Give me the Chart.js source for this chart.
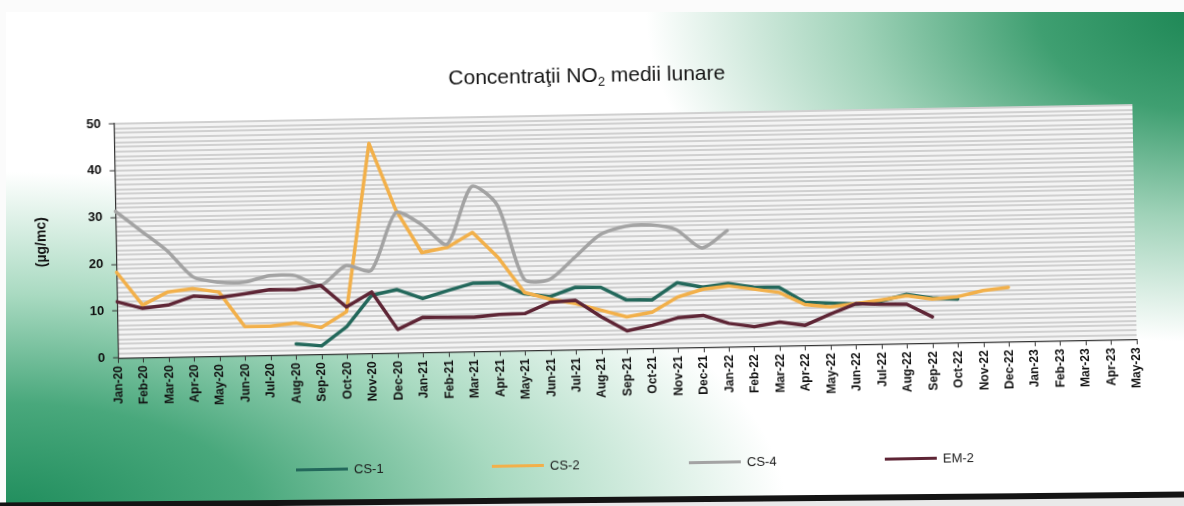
<!DOCTYPE html>
<html>
<head>
<meta charset="utf-8">
<script src="https://cdn.jsdelivr.net/npm/chart.js@4.4.0/dist/chart.umd.min.js"></script>
<style>
  html, body { margin:0; padding:0; }
  body { width:1184px; height:506px; overflow:hidden; position:relative; background:#fbfbfb; font-family:"Liberation Sans", Arial, sans-serif; }
  #page { position:absolute; left:6px; top:12px; width:1200px; height:500px;
    background:
      radial-gradient(ellipse 560px 330px at 100% 0%, #1c8654 0%, #3f9f71 30%, #9fd2b8 62%, rgba(255,255,255,0) 100%),
      radial-gradient(ellipse 780px 340px at 0% 100%, #1f8d5c 0%, #49a87c 32%, #a9dac1 64%, rgba(255,255,255,0) 100%),
      #ffffff; }
  #edge { position:absolute; left:-10px; top:497px; width:1220px; height:6px; background:#141414; transform:rotate(-0.53deg); }
  #below { position:absolute; left:-10px; top:501px; width:1220px; height:20px; background:#e9e9e9; transform:rotate(-0.53deg); }
  #wrap { position:absolute; left:0; top:0; width:1184px; height:506px; transform-origin:592px 253px; transform:rotate(-1.05deg); }
  #c { position:absolute; left:0; top:0; }
  #title { position:absolute; left:390px; width:400px; top:63px; text-align:center; font-size:21px; line-height:24px; color:#141414; }
  #title sub { font-size:13px; vertical-align:-4px; line-height:0; }
  .lg { position:absolute; top:456px; height:16px; display:flex; align-items:center; font-size:13px; color:#1a1a1a; }
  .lg span.sw { display:inline-block; width:52px; height:3px; margin-right:6px; }
</style>
</head>
<body>
<div id="page"></div>
<div id="below"></div>
<div id="edge"></div>
<div id="wrap">
  <canvas id="c" width="1184" height="506"></canvas>
  <div id="title">Concentraţii NO<sub>2</sub> medii lunare</div>
  <div class="lg" style="left:292px"><span class="sw" style="background:#23685b"></span>CS-1</div>
  <div class="lg" style="left:488px"><span class="sw" style="background:#f2b04a"></span>CS-2</div>
  <div class="lg" style="left:685px"><span class="sw" style="background:#a3a3a3"></span>CS-4</div>
  <div class="lg" style="left:881px"><span class="sw" style="background:#5e2535"></span>EM-2</div>
</div>
<script>
const months = ['Jan-20','Feb-20','Mar-20','Apr-20','May-20','Jun-20','Jul-20','Aug-20','Sep-20','Oct-20','Nov-20','Dec-20',
  'Jan-21','Feb-21','Mar-21','Apr-21','May-21','Jun-21','Jul-21','Aug-21','Sep-21','Oct-21','Nov-21','Dec-21',
  'Jan-22','Feb-22','Mar-22','Apr-22','May-22','Jun-22','Jul-22','Aug-22','Sep-22','Oct-22','Nov-22','Dec-22',
  'Jan-23','Feb-23','Mar-23','Apr-23','May-23'];

const cs1 = [null,null,null,null,null,null,null,
  2.3,1.8,5.8,12.4,13.5,11.5,13.1,14.6,14.6,12.1,11.4,13.3,13.2,10.4,10.3,13.9,12.8,13.5,12.6,12.5,9.2,8.9,8.6,9.2,10.5,9.6,9.3,
  null,null,null,null,null,null,null];

const cs2 = [18.3,11.2,13.9,14.5,13.7,6.2,6.2,6.8,5.7,9.0,44.8,30.6,21.3,22.3,25.4,19.9,12.4,10.9,9.8,8.3,6.8,7.7,10.8,12.4,
  13.0,12.2,11.4,8.7,8.1,8.7,9.4,10.2,9.4,9.8,11.0,11.6,
  null,null,null,null,null];

const cs4 = [31.3,27.0,22.7,17.0,15.8,15.7,17.0,16.9,14.7,18.8,17.7,29.9,27.3,23.0,35.2,31.1,15.2,15.1,19.7,24.4,26.1,26.3,25.2,21.2,24.8,
  null,null,null,null,null,null,null,null,null,null,null,null,null,null,null,null];

const em2 = [12.0,10.5,11.1,12.9,12.5,13.2,14.0,13.9,14.7,10.0,13.1,5.0,7.5,7.4,7.3,7.8,7.9,10.2,10.5,6.9,3.8,4.9,6.4,6.8,
  5.0,4.2,5.1,4.3,6.6,8.7,8.5,8.4,5.6,
  null,null,null,null,null,null,null,null];

const yMin = 0, yMax = 50, yStep = 1, yLabelEvery = 10;

const FONT = '"Liberation Sans", Arial, sans-serif';

const plotBg = {
  id: 'plotBg',
  beforeDraw(chart) {
    const {ctx, chartArea:a} = chart;
    ctx.save();
    ctx.fillStyle = '#f4f4f4';
    ctx.fillRect(a.left, a.top, a.right - a.left, a.bottom - a.top);
    ctx.restore();
  }
};

function ds(label, data, color, order, tension) {
  return { label, data, borderColor: color, backgroundColor: color, borderWidth: 3.5,
    pointRadius: 0, pointHoverRadius: 0, tension: tension, spanGaps: false, order, fill: false,
    borderJoinStyle: 'round', borderCapStyle: 'round' };
}

new Chart(document.getElementById('c'), {
  type: 'line',
  data: {
    labels: months,
    datasets: [
      ds('CS-1', cs1, '#23685b', 4, 0),
      ds('CS-2', cs2, '#f2b04a', 3, 0),
      ds('CS-4', cs4, '#a3a3a3', 2, 0.25),
      ds('EM-2', em2, '#5e2535', 1, 0)
    ]
  },
  options: {
    responsive: false,
    animation: false,
    layout: { padding: { top: 115, left: 0, right: 49, bottom: 105 } },
    plugins: { legend: { display: false }, title: { display: false }, tooltip: { enabled: false } },
    scales: {
      x: {
        offset: false,
        grid: { display: true, drawOnChartArea: false, drawTicks: true, tickLength: 5, color: '#333', tickColor: '#333', lineWidth: 1 },
        border: { display: true, color: '#333', width: 1.2 },
        ticks: { autoSkip: false, minRotation: 90, maxRotation: 90, padding: 3, color: '#111',
          font: { family: FONT, size: 12, weight: 'bold' } }
      },
      y: {
        min: yMin, max: yMax,
        ticks: { stepSize: yStep, autoSkip: false, padding: 8, color: '#111',
          font: { family: FONT, size: 13, weight: 'bold' },
          callback: (v) => (v % yLabelEvery === 0 ? String(v) : '') },
        grid: {
          color: (c) => (c.tick && c.tick.value === 0 ? 'rgba(0,0,0,0)' : '#d0d0d0'),
          lineWidth: 2, tickLength: 5, tickWidth: 1,
          tickColor: (c) => (c.tick && c.tick.value % yLabelEvery === 0 ? '#333' : 'rgba(0,0,0,0)')
        },
        border: { display: true, color: '#333', width: 1.2 },
        title: { display: true, text: '(µg/mc)', color: '#111', font: { family: FONT, size: 14, weight: 'bold' }, padding: { top: 34, bottom: 30 } }
      }
    }
  },
  plugins: [plotBg]
});
</script>
</body>
</html>
